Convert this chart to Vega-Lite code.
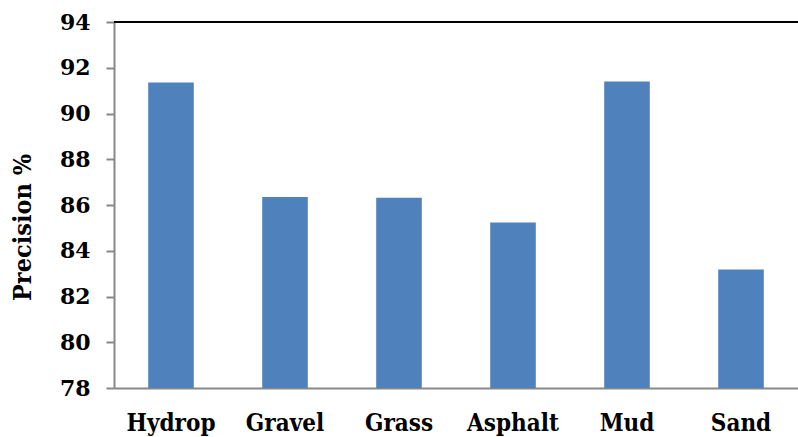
{
  "$schema": "https://vega.github.io/schema/vega-lite/v6.json",
  "width": 684,
  "height": 366,
  "autosize": {"type": "none"},
  "padding": {"left": 114, "top": 22, "right": 0, "bottom": 49},
  "background": "white",
  "config": {
    "view": {"stroke": null},
    "font": "DejaVu Serif"
  },
  "data": {
    "values": [
      {"surface": "Hydrop", "precision": 91.35},
      {"surface": "Gravel", "precision": 86.35},
      {"surface": "Grass", "precision": 86.32},
      {"surface": "Asphalt", "precision": 85.24},
      {"surface": "Mud", "precision": 91.4},
      {"surface": "Sand", "precision": 83.18}
    ]
  },
  "layer": [
    {
      "mark": {"type": "bar", "color": "#4F81BD", "clip": true},
      "encoding": {
        "x": {
          "field": "surface",
          "type": "nominal",
          "sort": null,
          "scale": {"paddingInner": 0.6, "paddingOuter": 0.3},
          "axis": {
            "title": null,
            "labelAngle": 0,
            "labelFont": "DejaVu Serif Condensed",
            "labelFontWeight": "bold",
            "labelFontSize": 24,
            "labelColor": "black",
            "labelPadding": 23,
            "ticks": false,
            "domainColor": "#888888",
            "domainWidth": 2
          }
        },
        "y": {
          "field": "precision",
          "type": "quantitative",
          "scale": {"domain": [78, 94], "zero": false, "nice": false},
          "axis": {
            "title": "Precision %",
            "titleFont": "DejaVu Serif Condensed",
            "titleFontWeight": "bold",
            "titleFontSize": 25,
            "titleColor": "black",
            "titleX": -84,
            "titleY": 205,
            "titleBaseline": "alphabetic",
            "values": [78, 80, 82, 84, 86, 88, 90, 92, 94],
            "grid": false,
            "labelFont": "DejaVu Serif",
            "labelFontWeight": "bold",
            "labelFontSize": 22,
            "labelColor": "black",
            "labelPadding": 16,
            "tickSize": 8,
            "tickColor": "#888888",
            "tickWidth": 2,
            "domainColor": "#888888",
            "domainWidth": 2
          }
        }
      }
    },
    {
      "data": {"values": [{"top": 94}]},
      "mark": {"type": "rule", "color": "black", "strokeWidth": 2},
      "encoding": {
        "y": {"field": "top", "type": "quantitative"}
      }
    }
  ]
}
